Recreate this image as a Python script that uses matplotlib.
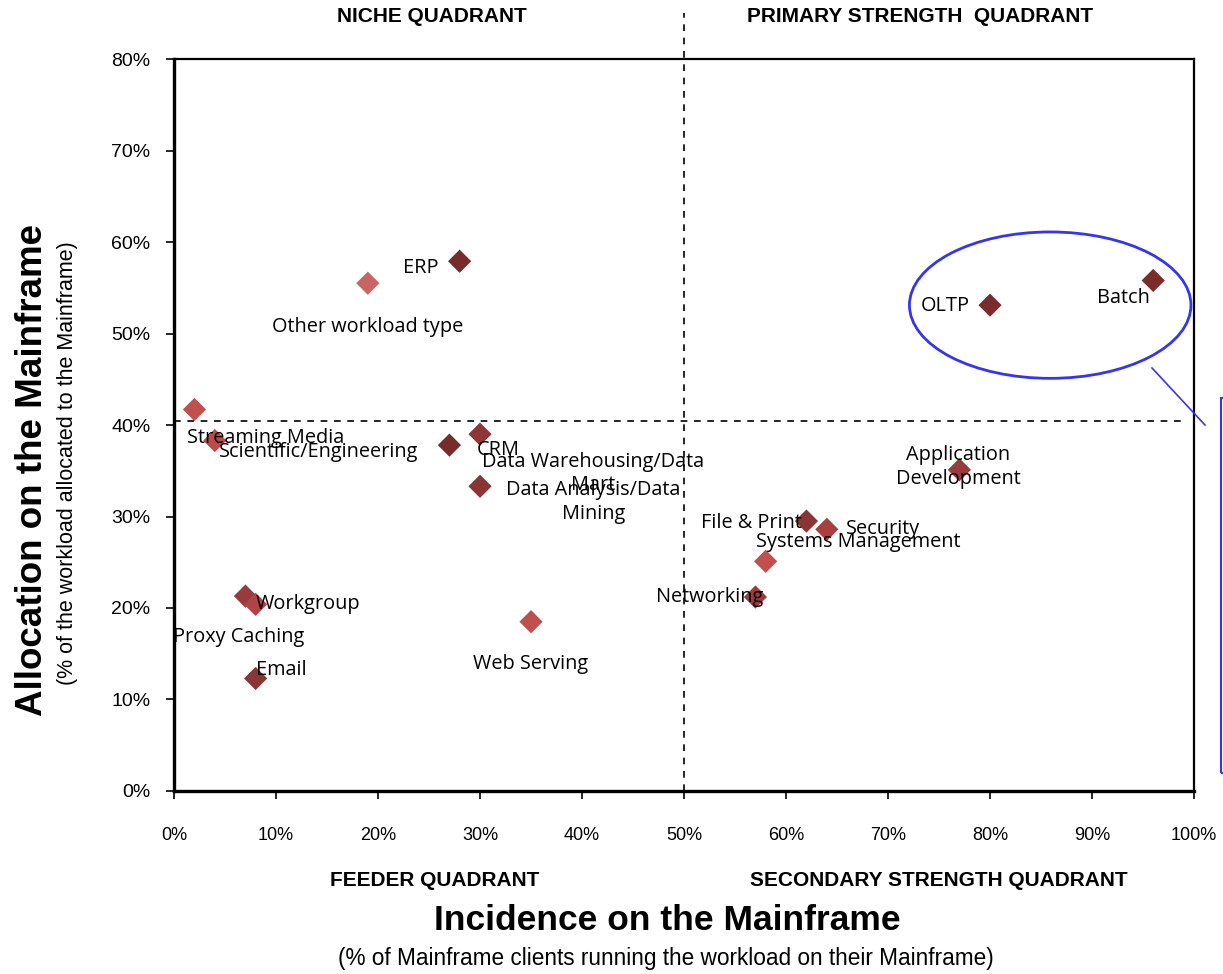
import matplotlib.pyplot as plt
from matplotlib.patches import Ellipse, Rectangle
from matplotlib.lines import Line2D
from matplotlib.ticker import PercentFormatter

# incidence (x) and allocation (y) per workload, in %
workloads = ["Streaming Media", "Scientific/Engineering", "Other workload type", "ERP",
             "CRM", "Data Warehousing/Data Mart", "Data Analysis/Data Mining", "Web Serving",
             "Proxy Caching", "Workgroup", "Email", "Networking", "Systems Management",
             "File & Print", "Security", "Application Development", "OLTP", "Batch"]
incidence = [2, 4, 19, 28, 30, 27, 30, 35, 7, 8, 8, 57, 58, 62, 64, 77, 80, 96]
allocation = [41.7, 38.3, 55.5, 57.9, 39.0, 37.8, 33.3, 18.5, 21.3, 20.4, 12.3,
              21.2, 25.1, 29.5, 28.6, 35.1, 53.1, 55.8]
colors = ["#C0504D", "#BE4B48", "#C96464", "#772B2B", "#8E3535", "#772B2B", "#8B3434",
          "#C0504D", "#9A3B3B", "#B04444", "#8B3434", "#9F3A3A", "#C0504D", "#8B3434",
          "#A84040", "#9A3B3B", "#7A2C2C", "#7A2C2C"]

# label text and where it sits (data coords, %)
label_text = ["Streaming Media", "Scientific/Engineering", "Other workload type", "ERP",
              "CRM", "Data Warehousing/Data\nMart", "Data Analysis/Data\nMining", "Web Serving",
              "Proxy Caching", "Workgroup", "Email", "Networking", "Systems Management",
              "File & Print", "Security", "Application\nDevelopment", "OLTP", "Batch"]
label_x = [9.0, 14.2, 19.0, 24.2, 31.8, 41.1, 41.1, 35.0, 6.3, 13.1, 10.5, 52.5, 67.1,
           56.6, 69.5, 76.9, 75.6, 93.1]
label_y = [38.6, 37.0, 50.7, 57.2, 37.3, 34.7, 31.6, 13.9, 16.8, 20.4, 13.2, 21.2, 27.2,
           29.3, 28.6, 35.4, 53.0, 53.9]

fig = plt.figure(figsize=(12.23, 9.74), dpi=100)
ax = fig.add_axes([0.1423, 0.1879, 0.8340, 0.7515])

ax.scatter(incidence, allocation, marker="D", s=140, c=colors, zorder=3, linewidths=0)
for t, lx, ly in zip(label_text, label_x, label_y):
    ax.text(lx, ly, t, ha="center", va="center", fontsize=14.3, family="Open Sans",
            linespacing=1.25, zorder=4)

ax.set_xlim(0, 100)
ax.set_ylim(0, 80)
ax.set_xticks(range(0, 101, 10))
ax.set_yticks(range(0, 81, 10))
ax.xaxis.set_major_formatter(PercentFormatter(decimals=0))
ax.yaxis.set_major_formatter(PercentFormatter(decimals=0))
ax.tick_params(axis="x", direction="out", length=6, width=1.2, pad=20, labelsize=13)
ax.tick_params(axis="y", direction="out", length=6, width=1.2, pad=11, labelsize=14)
for lab in ax.get_xticklabels() + ax.get_yticklabels():
    lab.set_family("Liberation Sans")

for side in ["left", "bottom"]:
    ax.spines[side].set_linewidth(2.4)
for side in ["top", "right"]:
    ax.spines[side].set_linewidth(1.6)

# quadrant dividers
ax.axhline(40.4, xmin=0, xmax=0.99, color="black", ls=(0, (4, 4)), lw=1.2)
ax.add_line(Line2D([50, 50], [0, 85], color="black", ls=(0, (4, 4)), lw=1.2, clip_on=False))

# highlight ellipse and callout
ax.add_patch(Ellipse((85.9, 53.1), 27.6, 16.0, fill=False, edgecolor="#3535F0", lw=2,
                     clip_on=False, zorder=5))
fig.add_artist(Line2D([1152 / 1223, 1205 / 1223], [1 - 368 / 974, 1 - 425 / 974],
                      color="#3535F0", lw=1.2))
fig.add_artist(Rectangle((1221 / 1223, 1 - 773 / 974), 0.05, 375 / 974, fill=False,
                         edgecolor="#3535F0", lw=1.5, clip_on=False))

# quadrant names
quad_font = dict(fontsize=15, fontweight="bold", family="Liberation Sans", ha="center", va="center")
fig.text(432 / 1223, 1 - 17 / 974, "NICHE QUADRANT", **quad_font)
fig.text(920 / 1223, 1 - 17 / 974, "PRIMARY STRENGTH  QUADRANT", **quad_font)
fig.text(435 / 1223, 1 - 881 / 974, "FEEDER QUADRANT", **quad_font)
fig.text(939 / 1223, 1 - 881 / 974, "SECONDARY STRENGTH QUADRANT", **quad_font)

# axis titles
fig.text(667 / 1223, 1 - 921 / 974, "Incidence on the Mainframe", fontsize=25.5,
         fontweight="bold", family="Liberation Sans", ha="center", va="center")
fig.text(666 / 1223, 1 - 958 / 974, "(% of Mainframe clients running the workload on their Mainframe)",
         fontsize=16.3, family="Liberation Sans", ha="center", va="center")
fig.text(33 / 1223, 1 - 470 / 974, "Allocation on the Mainframe", fontsize=26.5,
         fontweight="bold", family="Liberation Sans", ha="center", va="center", rotation=90)
fig.text(68 / 1223, 1 - 463 / 974, "(% of the workload allocated to the Mainframe)",
         fontsize=15.5, family="Liberation Sans", ha="center", va="center", rotation=90)

fig.savefig("out.png", dpi=100)
